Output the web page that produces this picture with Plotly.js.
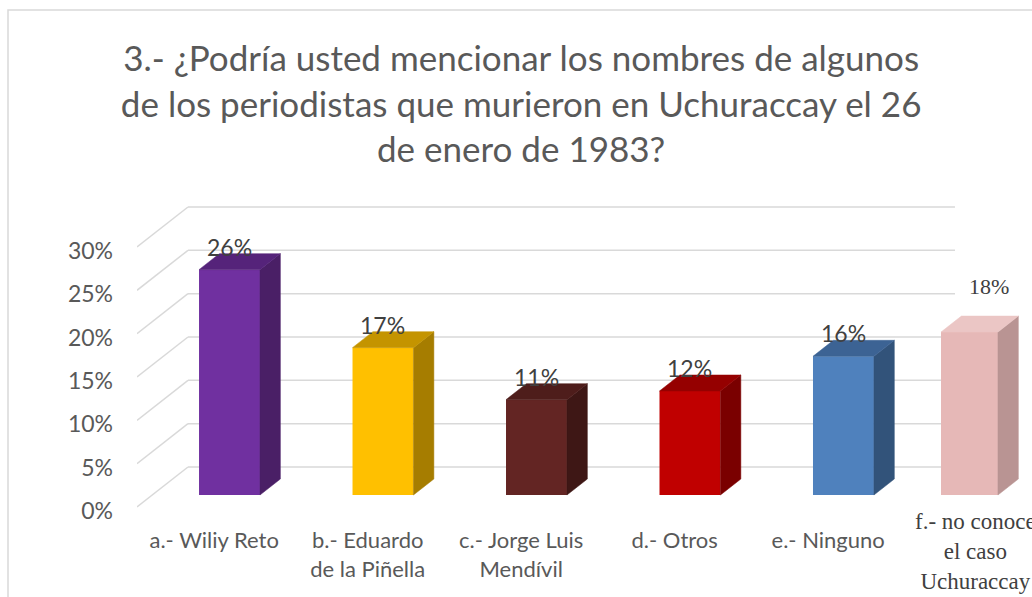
<!DOCTYPE html>
<html>
<head>
<meta charset="utf-8">
<script src="https://cdn.plot.ly/plotly-3.0.1.min.js"></script>
<style>html,body{margin:0;padding:0;background:#fff;}#chart{width:1032px;height:597px;}</style>
</head>
<body>
<div id="chart"></div>
<script>
// ---- data ----
const categories = ['a.- Wiliy Reto', 'b.- Eduardo<br>de la Piñella', 'c.- Jorge Luis<br>Mendívil', 'd.- Otros', 'e.- Ninguno', 'f.- no conoce<br>el caso<br>Uchuraccay'];
const values = [26, 17, 11, 12, 16, 18.8];
const valueLabels = ['26%', '17%', '11%', '12%', '16%', '18%'];
const yTicks = [0, 5, 10, 15, 20, 25, 30];
const yTickLabels = ['0%', '5%', '10%', '15%', '20%', '25%', '30%'];

// ---- styles ----
const frontColors = ['#7030A0', '#FFC000', '#632523', '#C00000', '#4F81BD', '#E6B8B7'];
const sideColors  = ['#4A1F66', '#A67D00', '#3E1715', '#7A0000', '#32537A', '#B99493'];
const topColors   = ['#55237A', '#C49400', '#4E1D1B', '#950000', '#3C6394', '#EBC6C5'];
const barShift    = [0, 0, 0, 0, 0, -0.179];   // horizontal nudge of each column (axis units)
const barWidths   = [0.397, 0.397, 0.397, 0.397, 0.397, 0.371];
const sansFont = 'Lato, "Liberation Sans", sans-serif';
const serifFont = '"Liberation Serif", "Times New Roman", serif';

// perspective: full depth shift in axis units
const DX = 0.3322, DY = 4.615;
const barFront = 0.3, barDepth = 0.4;
const xL = -0.503, xR = 4.494;
const xRange = [-0.503, 5.328], yRange = [-0.923, 35.42];

function P(x, y, d) { return [x + DX * d, y + DY * d]; }

const idx = categories.map((c, i) => i);
const traces = [];

// walls: side-wall diagonals + back-wall gridlines (as shapes below the columns)
const shapes = [];
yTicks.forEach(t => {
  const a = P(xL, t, 0), b = P(xL, t, 1), c = P(xR, t, 1);
  shapes.push({type: 'line', xref: 'x', yref: 'y', x0: a[0], y0: a[1], x1: b[0], y1: b[1],
    line: {color: '#D9D9D9', width: 1.5}, layer: 'below'});
  shapes.push({type: 'line', xref: 'x', yref: 'y', x0: b[0], y0: b[1], x1: c[0], y1: c[1],
    line: {color: '#D9D9D9', width: 1.5}, layer: 'below'});
});
// chart border
shapes.push({type: 'rect', xref: 'paper', yref: 'paper', x0: (8 - 137) / 895, x1: 1.2, y0: -0.5, y1: (515 - 10) / 315,
  line: {color: '#D9D9D9', width: 1.5}, fillcolor: 'rgba(0,0,0,0)', layer: 'below'});

// side & top faces
idx.forEach(i => {
  const v = values[i];
  const cx = i + barShift[i];
  const xl = cx - barWidths[i] / 2, xr = cx + barWidths[i] / 2;
  const frb = P(xr, 0, barFront), frt = P(xr, v, barFront);
  const brb = P(xr, 0, barFront + barDepth), brt = P(xr, v, barFront + barDepth);
  const flt = P(xl, v, barFront), blt = P(xl, v, barFront + barDepth);
  traces.push({type: 'scatter', mode: 'lines', fill: 'toself', fillcolor: sideColors[i],
    x: [frb[0], frt[0], brt[0], brb[0], frb[0]], y: [frb[1], frt[1], brt[1], brb[1], frb[1]],
    line: {color: sideColors[i], width: 0.5}, hoverinfo: 'skip', showlegend: false});
  traces.push({type: 'scatter', mode: 'lines', fill: 'toself', fillcolor: topColors[i],
    x: [flt[0], frt[0], brt[0], blt[0], flt[0]], y: [flt[1], frt[1], brt[1], blt[1], flt[1]],
    line: {color: topColors[i], width: 0.5}, hoverinfo: 'skip', showlegend: false});
});

// front faces
traces.push({type: 'bar', x: idx, y: values, base: DY * barFront,
  width: barWidths, offset: idx.map(i => -barWidths[i] / 2 + DX * barFront + barShift[i]),
  marker: {color: frontColors, line: {width: 0}}, hoverinfo: 'skip', showlegend: false});

// data labels
const annotations = idx.map(i => {
  const isLast = i === categories.length - 1;
  const a = {
    x: i + barShift[i] + DX * barFront, y: values[i] + DY * barFront, xref: 'x', yref: 'y',
    text: valueLabels[i], showarrow: false, xanchor: 'center', yanchor: 'middle',
    xshift: isLast ? 20 : 0, yshift: isLast ? 46 : 23,
    font: {family: isLast ? serifFont : sansFont, size: isLast ? 22 : 23, color: '#404040'}
  };
  if (isLast) { a.bgcolor = '#ffffff'; a.borderpad = 10; }
  return a;
});
// last category label (serif, set higher)
annotations.push({x: categories.length - 1, y: 0, xref: 'x', yref: 'y', text: categories[categories.length - 1],
  showarrow: false, xanchor: 'center', yanchor: 'top', xshift: -6,
  font: {family: serifFont, size: 23, color: '#404040'}});

const tickText = categories.map((c, i) => i === categories.length - 1 ? '' : c);

const layout = {
  width: 1032, height: 597,
  margin: {l: 137, r: 0, t: 200, b: 82},
  paper_bgcolor: '#ffffff', plot_bgcolor: 'rgba(0,0,0,0)',
  showlegend: false,
  title: {
    text: '3.- ¿Podría usted mencionar los nombres de algunos<br>de los periodistas que murieron en Uchuraccay el 26<br>de enero de 1983?',
    x: 0.505, xref: 'container', xanchor: 'center', y: 1 - 71 / 597, yref: 'container', yanchor: 'top',
    font: {family: sansFont, size: 35, color: '#595959'}
  },
  xaxis: {range: xRange, tickvals: idx, ticktext: tickText, showgrid: false, zeroline: false, showline: false,
    ticks: '', ticklabelstandoff: 10, fixedrange: true, tickfont: {family: sansFont, size: 22, color: '#595959'}},
  yaxis: {range: yRange, tickvals: yTicks, ticktext: yTickLabels, showgrid: false, zeroline: false, showline: false,
    ticks: '', ticklabelstandoff: 23, ticklabelshift: 4, fixedrange: true, tickfont: {family: sansFont, size: 23, color: '#595959'}},
  annotations: annotations,
  shapes: shapes,
  hovermode: false
};

Plotly.newPlot('chart', traces, layout, {displayModeBar: false, staticPlot: true});
</script>
</body>
</html>
